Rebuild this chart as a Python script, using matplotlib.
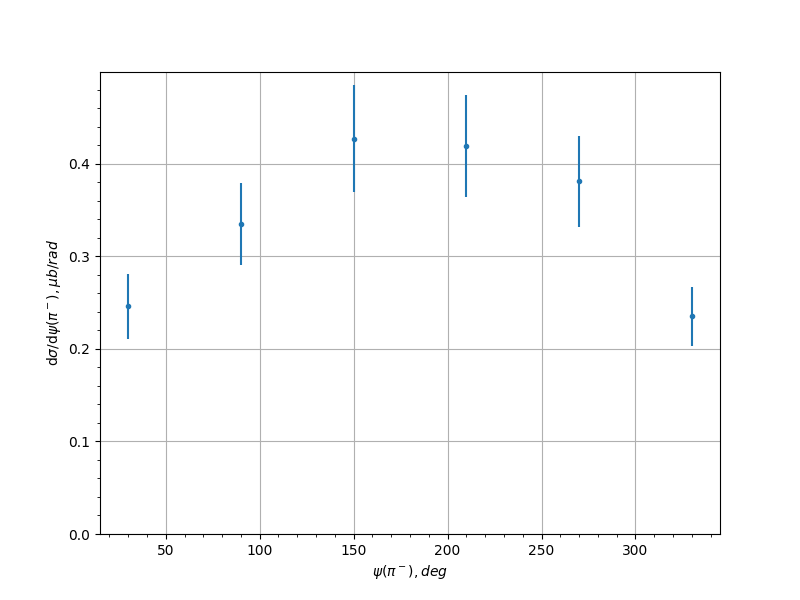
import matplotlib
matplotlib.use("Agg")
import matplotlib.pyplot as plt

psi = [30, 90, 150, 210, 270, 330]
dsigma = [0.246, 0.335, 0.427, 0.419, 0.381, 0.235]
err = [0.035, 0.044, 0.058, 0.055, 0.049, 0.032]

fig, ax = plt.subplots(figsize=(8, 6), dpi=100)
ax.errorbar(psi, dsigma, yerr=err, fmt='.')
ax.set_ylim(bottom=0)
ax.minorticks_on()
ax.grid(True, which='major')
ax.set_xlabel(r'$\psi(\pi^-), deg$')
ax.set_ylabel(r'd$\sigma$/d$\psi(\pi^-), \mu b/rad$')
fig.savefig('out.png')
